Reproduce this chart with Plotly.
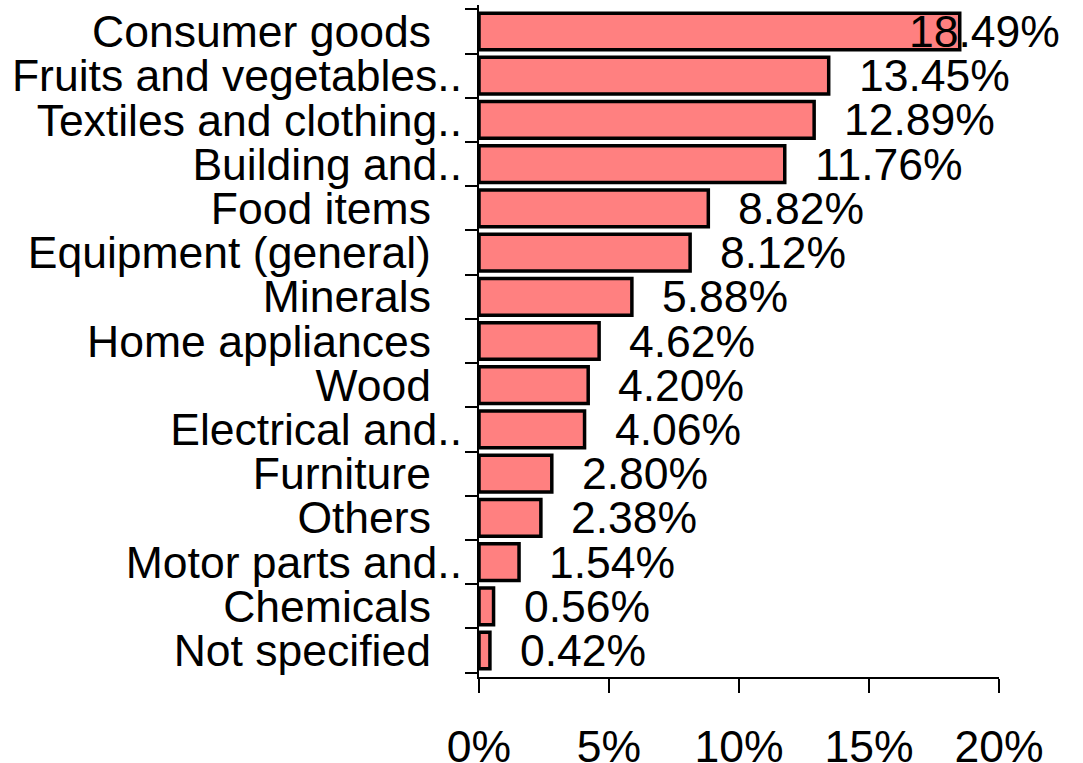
import plotly.graph_objects as go

categories = [
    "Consumer goods",
    "Fruits and vegetables..",
    "Textiles and clothing..",
    "Building and..",
    "Food items",
    "Equipment (general)",
    "Minerals",
    "Home appliances",
    "Wood",
    "Electrical and..",
    "Furniture",
    "Others",
    "Motor parts and..",
    "Chemicals",
    "Not specified",
]
values = [18.49, 13.45, 12.89, 11.76, 8.82, 8.12, 5.88, 4.62, 4.20, 4.06, 2.80, 2.38, 1.54, 0.56, 0.42]
x_tickvals = [0, 5, 10, 15, 20]
x_ticktext = ["0%", "5%", "10%", "15%", "20%"]

FONT = "Liberation Sans, Arial, sans-serif"
FS = 44.5
W, H = 1083, 763
ML, MR, MT, MB = 479, 84, 5, 86
XMAX = 20
plot_w = W - ML - MR
px_per_unit = plot_w / XMAX
label_shift = 28
right_limit_px = 1062

def disp_label(c):
    return c if c.endswith("..") else c + "\u2002\u2009"

fig = go.Figure()
fig.add_trace(go.Bar(
    y=categories,
    x=values,
    orientation="h",
    marker=dict(color="#FF8080", line=dict(color="black", width=3.5)),
    showlegend=False,
    hoverinfo="skip",
))

annotations = []
for c, v in zip(categories, values):
    txt = f"{v:.2f}%"
    est_w = 155 if len(txt) == 6 else 127
    end_px = ML + v * px_per_unit + label_shift + est_w
    if end_px > right_limit_px:
        annotations.append(dict(
            x=(right_limit_px - ML) / plot_w, y=c, xref="paper", yref="y",
            text=txt, showarrow=False, xanchor="right", yanchor="middle",
            font=dict(family=FONT, size=FS, color="black"),
        ))
    else:
        annotations.append(dict(
            x=v, y=c, xref="x", yref="y", xshift=label_shift,
            text=txt, showarrow=False, xanchor="left", yanchor="middle",
            font=dict(family=FONT, size=FS, color="black"),
        ))

fig.update_layout(
    width=W, height=H,
    margin=dict(l=ML, r=MR, t=MT, b=MB, pad=0, autoexpand=False),
    paper_bgcolor="white", plot_bgcolor="white",
    bargap=0.17,
    font=dict(family=FONT, size=FS, color="black"),
    annotations=annotations,
)
fig.update_xaxes(
    range=[0, XMAX], tickvals=x_tickvals, ticktext=x_ticktext,
    showgrid=False, zeroline=False, automargin=False,
    showline=True, linecolor="black", linewidth=2,
    ticks="outside", ticklen=14, tickwidth=2, tickcolor="black",
    ticklabelstandoff=16,
    tickfont=dict(family=FONT, size=FS, color="black"),
)
fig.update_yaxes(
    categoryorder="array", categoryarray=categories, autorange="reversed",
    tickvals=categories, ticktext=[disp_label(c) for c in categories],
    showgrid=False, zeroline=False, automargin=False,
    showline=True, linecolor="black", linewidth=2,
    ticks="outside", ticklen=12, tickwidth=2, tickcolor="black",
    tickson="boundaries", ticklabelstandoff=6,
    tickfont=dict(family=FONT, size=FS, color="black"),
)

fig.write_html(
    "out.html",
    config={"displayModeBar": False},
    post_script="document.body.style.margin='0';",
)
